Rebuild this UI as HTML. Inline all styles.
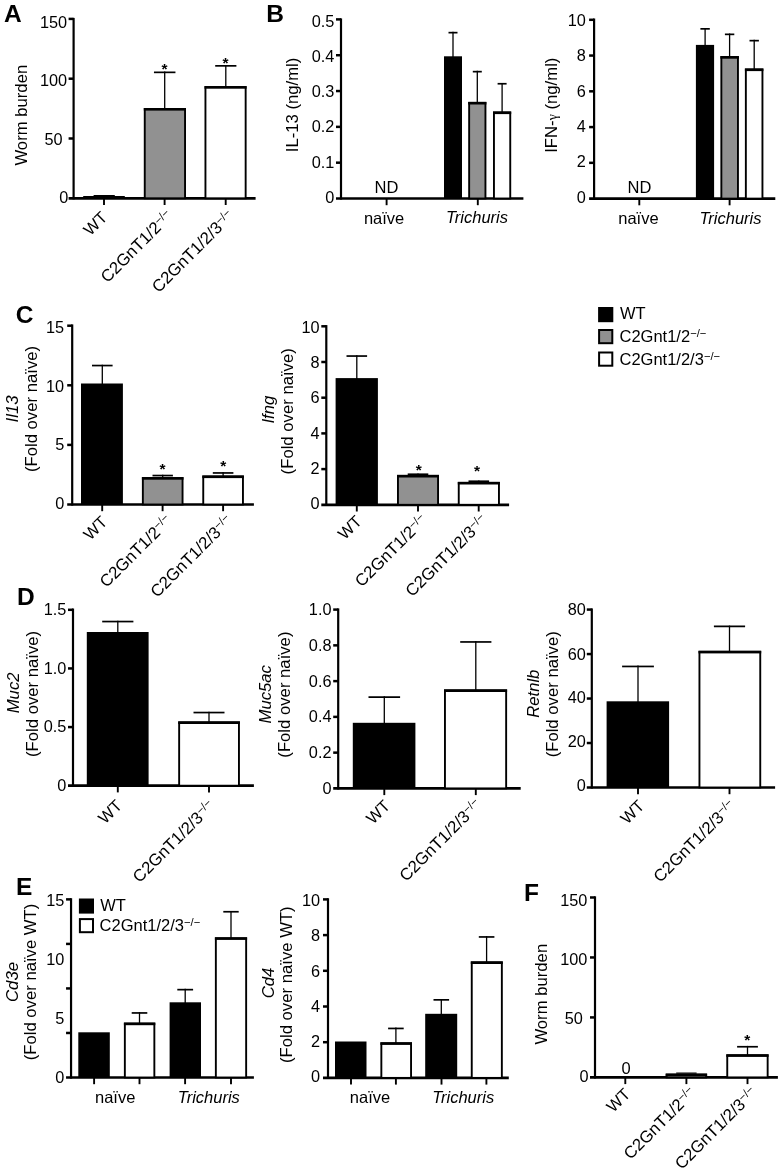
<!DOCTYPE html>
<html lang="en">
<head>
<meta charset="utf-8">
<title>Figure</title>
<style>
html,body{margin:0;padding:0;background:#fff;}
body{width:782px;height:1172px;overflow:hidden;}
svg{display:block;}
svg text{font-family:"Liberation Sans",Arial,Helvetica,sans-serif;fill:#000;}
</style>
</head>
<body>
<svg width="782" height="1172" viewBox="0 0 782 1172">
<rect x="0" y="0" width="782" height="1172" fill="#fff"/>
<text x="4" y="21.6" font-size="24.5" font-weight="bold">A</text>
<text x="266.3" y="21.6" font-size="24.5" font-weight="bold">B</text>
<text x="15.8" y="322.7" font-size="24.5" font-weight="bold">C</text>
<text x="16.9" y="604.6" font-size="24.5" font-weight="bold">D</text>
<text x="16.1" y="895.4" font-size="24.5" font-weight="bold">E</text>
<text x="523.9" y="900.7" font-size="24.5" font-weight="bold">F</text>
<line x1="73.6" y1="17.9" x2="73.6" y2="199.4" stroke="#000" stroke-width="2.2" stroke-linecap="butt"/>
<line x1="68.6" y1="198.3" x2="255.6" y2="198.3" stroke="#000" stroke-width="2.7" stroke-linecap="butt"/>
<line x1="68.6" y1="138.5" x2="73.6" y2="138.5" stroke="#000" stroke-width="2.5" stroke-linecap="butt"/>
<line x1="68.6" y1="78.7" x2="73.6" y2="78.7" stroke="#000" stroke-width="2.5" stroke-linecap="butt"/>
<line x1="68.6" y1="18.9" x2="73.6" y2="18.9" stroke="#000" stroke-width="2.5" stroke-linecap="butt"/>
<text x="68.2" y="203.04" font-size="16.3" text-anchor="end">0</text>
<text x="62.5" y="145.14" font-size="16.3" text-anchor="end">50</text>
<text x="67.1" y="86.14" font-size="16.3" text-anchor="end">100</text>
<text x="67.1" y="27.54" font-size="16.3" text-anchor="end">150</text>
<line x1="104" y1="198.3" x2="104" y2="205" stroke="#000" stroke-width="1.9" stroke-linecap="butt"/>
<line x1="164.6" y1="198.3" x2="164.6" y2="205" stroke="#000" stroke-width="1.9" stroke-linecap="butt"/>
<line x1="225.7" y1="198.3" x2="225.7" y2="205" stroke="#000" stroke-width="1.9" stroke-linecap="butt"/>
<rect x="83.2" y="196" width="41.6" height="2.3" fill="#000"/>
<line x1="93.6" y1="195.6" x2="114.8" y2="195.6" stroke="#000" stroke-width="1.2" stroke-linecap="butt"/>
<rect x="144.75" y="108.95" width="40.3" height="89.35" fill="#919191" stroke="#000" stroke-width="1.9"/>
<rect x="143.8" y="108" width="42.2" height="2.6" fill="#000"/>
<rect x="205.45" y="87.05" width="40.2" height="111.25" fill="#fff" stroke="#000" stroke-width="1.9"/>
<rect x="204.5" y="86.1" width="42.1" height="2.6" fill="#000"/>
<line x1="164.7" y1="71.5" x2="164.7" y2="109" stroke="#000" stroke-width="1.3" stroke-linecap="butt"/>
<line x1="153.95" y1="72.35" x2="175.45" y2="72.35" stroke="#000" stroke-width="1.7" stroke-linecap="butt"/>
<line x1="225.8" y1="65" x2="225.8" y2="87.1" stroke="#000" stroke-width="1.3" stroke-linecap="butt"/>
<line x1="215.2" y1="65.85" x2="236.4" y2="65.85" stroke="#000" stroke-width="1.7" stroke-linecap="butt"/>
<text x="164.6" y="74.17" font-size="15.5" text-anchor="middle" font-weight="bold">*</text>
<text x="225.6" y="68.17" font-size="15.5" text-anchor="middle" font-weight="bold">*</text>
<text x="108.5" y="218.4" font-size="16.5" text-anchor="end" transform="rotate(-45 108.5 218.4)">WT</text>
<text x="173.9" y="217.1" font-size="16.8" text-anchor="end" transform="rotate(-45 173.9 217.1)">C2GnT1/2<tspan font-size="11.42" dy="-5.04">−/−</tspan></text>
<text x="235" y="217.1" font-size="16.8" text-anchor="end" transform="rotate(-45 235 217.1)">C2GnT1/2/3<tspan font-size="11.42" dy="-5.04">−/−</tspan></text>
<text x="27.4" y="115.2" font-size="16.7" text-anchor="middle" transform="rotate(-90 27.4 115.2)">Worm burden</text>
<line x1="341" y1="18.4" x2="341" y2="199.6" stroke="#000" stroke-width="2.2" stroke-linecap="butt"/>
<line x1="336" y1="198.5" x2="523.4" y2="198.5" stroke="#000" stroke-width="2.7" stroke-linecap="butt"/>
<line x1="336" y1="162.68" x2="341" y2="162.68" stroke="#000" stroke-width="2.5" stroke-linecap="butt"/>
<line x1="336" y1="126.86" x2="341" y2="126.86" stroke="#000" stroke-width="2.5" stroke-linecap="butt"/>
<line x1="336" y1="91.04" x2="341" y2="91.04" stroke="#000" stroke-width="2.5" stroke-linecap="butt"/>
<line x1="336" y1="55.22" x2="341" y2="55.22" stroke="#000" stroke-width="2.5" stroke-linecap="butt"/>
<line x1="336" y1="19.4" x2="341" y2="19.4" stroke="#000" stroke-width="2.5" stroke-linecap="butt"/>
<text x="334.4" y="203.44" font-size="16.3" text-anchor="end">0</text>
<text x="334.4" y="168.04" font-size="16.3" text-anchor="end">0.1</text>
<text x="334.4" y="132.44" font-size="16.3" text-anchor="end">0.2</text>
<text x="334.4" y="97.34" font-size="16.3" text-anchor="end">0.3</text>
<text x="334.4" y="61.94" font-size="16.3" text-anchor="end">0.4</text>
<text x="334.4" y="26.54" font-size="16.3" text-anchor="end">0.5</text>
<line x1="386.6" y1="198.5" x2="386.6" y2="205.2" stroke="#000" stroke-width="1.9" stroke-linecap="butt"/>
<line x1="477.8" y1="198.5" x2="477.8" y2="205.2" stroke="#000" stroke-width="1.9" stroke-linecap="butt"/>
<rect x="444" y="56.3" width="18" height="142.2" fill="#000"/>
<rect x="469.15" y="102.85" width="16.3" height="95.65" fill="#919191" stroke="#000" stroke-width="1.9"/>
<rect x="468.2" y="101.9" width="18.2" height="2.6" fill="#000"/>
<rect x="493.95" y="112.45" width="16.3" height="86.05" fill="#fff" stroke="#000" stroke-width="1.9"/>
<rect x="493" y="111.5" width="18.2" height="2.6" fill="#000"/>
<line x1="453" y1="31.8" x2="453" y2="57.3" stroke="#000" stroke-width="1.3" stroke-linecap="butt"/>
<line x1="448.5" y1="32.65" x2="457.5" y2="32.65" stroke="#000" stroke-width="1.7" stroke-linecap="butt"/>
<line x1="477.3" y1="70.8" x2="477.3" y2="102.9" stroke="#000" stroke-width="1.3" stroke-linecap="butt"/>
<line x1="472.8" y1="71.65" x2="481.8" y2="71.65" stroke="#000" stroke-width="1.7" stroke-linecap="butt"/>
<line x1="502.1" y1="82.9" x2="502.1" y2="112.5" stroke="#000" stroke-width="1.3" stroke-linecap="butt"/>
<line x1="497.6" y1="83.75" x2="506.6" y2="83.75" stroke="#000" stroke-width="1.7" stroke-linecap="butt"/>
<text x="386.4" y="192.5" font-size="16.5" text-anchor="middle">ND</text>
<text x="384.1" y="223.5" font-size="16.5" text-anchor="middle">naïve</text>
<text x="477" y="223.3" font-size="16.5" text-anchor="middle" font-style="italic">Trichuris</text>
<text x="297.9" y="104.9" font-size="16.7" text-anchor="middle" transform="rotate(-90 297.9 104.9)">IL-13 (ng/ml)</text>
<line x1="594.1" y1="18.5" x2="594.1" y2="199.7" stroke="#000" stroke-width="2.2" stroke-linecap="butt"/>
<line x1="589.1" y1="198.6" x2="775.3" y2="198.6" stroke="#000" stroke-width="2.7" stroke-linecap="butt"/>
<line x1="589.1" y1="162.84" x2="594.1" y2="162.84" stroke="#000" stroke-width="2.5" stroke-linecap="butt"/>
<line x1="589.1" y1="127.08" x2="594.1" y2="127.08" stroke="#000" stroke-width="2.5" stroke-linecap="butt"/>
<line x1="589.1" y1="91.32" x2="594.1" y2="91.32" stroke="#000" stroke-width="2.5" stroke-linecap="butt"/>
<line x1="589.1" y1="55.56" x2="594.1" y2="55.56" stroke="#000" stroke-width="2.5" stroke-linecap="butt"/>
<line x1="589.1" y1="19.8" x2="594.1" y2="19.8" stroke="#000" stroke-width="2.5" stroke-linecap="butt"/>
<text x="585.8" y="202.64" font-size="16.3" text-anchor="end">0</text>
<text x="585.8" y="167.04" font-size="16.3" text-anchor="end">2</text>
<text x="585.8" y="131.84" font-size="16.3" text-anchor="end">4</text>
<text x="585.8" y="97.24" font-size="16.3" text-anchor="end">6</text>
<text x="585.8" y="61.49" font-size="16.3" text-anchor="end">8</text>
<text x="585.8" y="26.34" font-size="16.3" text-anchor="end">10</text>
<line x1="639.3" y1="198.6" x2="639.3" y2="205.3" stroke="#000" stroke-width="1.9" stroke-linecap="butt"/>
<line x1="729.6" y1="198.6" x2="729.6" y2="205.3" stroke="#000" stroke-width="1.9" stroke-linecap="butt"/>
<rect x="695.9" y="44.9" width="18.2" height="153.7" fill="#000"/>
<rect x="721.35" y="57.05" width="16.6" height="141.55" fill="#919191" stroke="#000" stroke-width="1.9"/>
<rect x="720.4" y="56.1" width="18.5" height="2.6" fill="#000"/>
<rect x="745.85" y="69.45" width="16.6" height="129.15" fill="#fff" stroke="#000" stroke-width="1.9"/>
<rect x="744.9" y="68.5" width="18.5" height="2.6" fill="#000"/>
<line x1="705.1" y1="28" x2="705.1" y2="45.9" stroke="#000" stroke-width="1.3" stroke-linecap="butt"/>
<line x1="700.4" y1="28.85" x2="709.8" y2="28.85" stroke="#000" stroke-width="1.7" stroke-linecap="butt"/>
<line x1="729.6" y1="33.5" x2="729.6" y2="57.1" stroke="#000" stroke-width="1.3" stroke-linecap="butt"/>
<line x1="724.9" y1="34.35" x2="734.3" y2="34.35" stroke="#000" stroke-width="1.7" stroke-linecap="butt"/>
<line x1="754.2" y1="39.8" x2="754.2" y2="69.5" stroke="#000" stroke-width="1.3" stroke-linecap="butt"/>
<line x1="749.5" y1="40.65" x2="758.9" y2="40.65" stroke="#000" stroke-width="1.7" stroke-linecap="butt"/>
<text x="639.5" y="192.8" font-size="16.5" text-anchor="middle">ND</text>
<text x="638.4" y="223.5" font-size="16.5" text-anchor="middle">naïve</text>
<text x="730.5" y="223.5" font-size="16.5" text-anchor="middle" font-style="italic">Trichuris</text>
<text x="557.2" y="105.2" font-size="16.7" text-anchor="middle" transform="rotate(-90 557.2 105.2)">IFN-<tspan font-family="Liberation Serif, DejaVu Serif, serif" font-size="14">γ</tspan> (ng/ml)</text>
<rect x="598.1" y="307" width="15.2" height="15.2" fill="#000"/>
<rect x="599.1" y="330" width="13.2" height="13.2" fill="#919191" stroke="#000" stroke-width="2"/>
<rect x="599.1" y="352.5" width="13.2" height="13.2" fill="#fff" stroke="#000" stroke-width="2"/>
<text x="620" y="319.4" font-size="16.5">WT</text>
<text x="619.5" y="341.9" font-size="16.5">C2Gnt1/2<tspan font-size="11.22" dy="-4.95">−/−</tspan></text>
<text x="619.5" y="364.6" font-size="16.5">C2Gnt1/2/3<tspan font-size="11.22" dy="-4.95">−/−</tspan></text>
<line x1="72.2" y1="324.4" x2="72.2" y2="505.6" stroke="#000" stroke-width="2.2" stroke-linecap="butt"/>
<line x1="67.2" y1="504.5" x2="253.9" y2="504.5" stroke="#000" stroke-width="2.7" stroke-linecap="butt"/>
<line x1="67.2" y1="444.9" x2="72.2" y2="444.9" stroke="#000" stroke-width="2.5" stroke-linecap="butt"/>
<line x1="67.2" y1="385.3" x2="72.2" y2="385.3" stroke="#000" stroke-width="2.5" stroke-linecap="butt"/>
<line x1="67.2" y1="325.7" x2="72.2" y2="325.7" stroke="#000" stroke-width="2.5" stroke-linecap="butt"/>
<text x="64.2" y="509.04" font-size="16.3" text-anchor="end">0</text>
<text x="64.2" y="450.44" font-size="16.3" text-anchor="end">5</text>
<text x="64.2" y="391.64" font-size="16.3" text-anchor="end">10</text>
<text x="64.2" y="332.84" font-size="16.3" text-anchor="end">15</text>
<line x1="102.2" y1="504.5" x2="102.2" y2="511.2" stroke="#000" stroke-width="1.9" stroke-linecap="butt"/>
<line x1="162.6" y1="504.5" x2="162.6" y2="511.2" stroke="#000" stroke-width="1.9" stroke-linecap="butt"/>
<line x1="223.1" y1="504.5" x2="223.1" y2="511.2" stroke="#000" stroke-width="1.9" stroke-linecap="butt"/>
<rect x="81" y="383.5" width="41.9" height="121" fill="#000"/>
<rect x="142.85" y="478.05" width="39.7" height="26.45" fill="#919191" stroke="#000" stroke-width="1.9"/>
<rect x="141.9" y="477.1" width="41.6" height="2.6" fill="#000"/>
<rect x="203.25" y="476.45" width="39.7" height="28.05" fill="#fff" stroke="#000" stroke-width="1.9"/>
<rect x="202.3" y="475.5" width="41.6" height="2.6" fill="#000"/>
<line x1="102.3" y1="364.7" x2="102.3" y2="384.5" stroke="#000" stroke-width="1.3" stroke-linecap="butt"/>
<line x1="92" y1="365.55" x2="112.6" y2="365.55" stroke="#000" stroke-width="1.7" stroke-linecap="butt"/>
<line x1="162.7" y1="474.7" x2="162.7" y2="478.1" stroke="#000" stroke-width="1.3" stroke-linecap="butt"/>
<line x1="152.5" y1="475.55" x2="172.9" y2="475.55" stroke="#000" stroke-width="1.7" stroke-linecap="butt"/>
<line x1="223.1" y1="472.1" x2="223.1" y2="476.5" stroke="#000" stroke-width="1.3" stroke-linecap="butt"/>
<line x1="212.8" y1="472.95" x2="233.4" y2="472.95" stroke="#000" stroke-width="1.7" stroke-linecap="butt"/>
<text x="162.6" y="473.96" font-size="15.5" text-anchor="middle" font-weight="bold">*</text>
<text x="223.3" y="471.16" font-size="15.5" text-anchor="middle" font-weight="bold">*</text>
<text x="108.5" y="522.8" font-size="16.5" text-anchor="end" transform="rotate(-45 108.5 522.8)">WT</text>
<text x="173" y="521.9" font-size="16.8" text-anchor="end" transform="rotate(-45 173 521.9)">C2GnT1/2<tspan font-size="11.42" dy="-5.04">−/−</tspan></text>
<text x="233.5" y="521.9" font-size="16.8" text-anchor="end" transform="rotate(-45 233.5 521.9)">C2GnT1/2/3<tspan font-size="11.42" dy="-5.04">−/−</tspan></text>
<text x="17.8" y="409" font-size="16.7" text-anchor="middle" font-style="italic" transform="rotate(-90 17.8 409)">Il13</text>
<text x="36.6" y="409" font-size="16.7" text-anchor="middle" transform="rotate(-90 36.6 409)">(Fold over naïve)</text>
<line x1="326.3" y1="325.1" x2="326.3" y2="505.9" stroke="#000" stroke-width="2.2" stroke-linecap="butt"/>
<line x1="321.3" y1="504.8" x2="509.1" y2="504.8" stroke="#000" stroke-width="2.7" stroke-linecap="butt"/>
<line x1="321.3" y1="469.1" x2="326.3" y2="469.1" stroke="#000" stroke-width="2.5" stroke-linecap="butt"/>
<line x1="321.3" y1="433.4" x2="326.3" y2="433.4" stroke="#000" stroke-width="2.5" stroke-linecap="butt"/>
<line x1="321.3" y1="397.7" x2="326.3" y2="397.7" stroke="#000" stroke-width="2.5" stroke-linecap="butt"/>
<line x1="321.3" y1="362" x2="326.3" y2="362" stroke="#000" stroke-width="2.5" stroke-linecap="butt"/>
<line x1="321.3" y1="326.3" x2="326.3" y2="326.3" stroke="#000" stroke-width="2.5" stroke-linecap="butt"/>
<text x="319.6" y="509.14" font-size="16.3" text-anchor="end">0</text>
<text x="319.6" y="474.14" font-size="16.3" text-anchor="end">2</text>
<text x="319.6" y="438.64" font-size="16.3" text-anchor="end">4</text>
<text x="319.6" y="403.14" font-size="16.3" text-anchor="end">6</text>
<text x="319.6" y="367.74" font-size="16.3" text-anchor="end">8</text>
<text x="319.6" y="332.84" font-size="16.3" text-anchor="end">10</text>
<line x1="356.8" y1="504.8" x2="356.8" y2="511.5" stroke="#000" stroke-width="1.9" stroke-linecap="butt"/>
<line x1="418" y1="504.8" x2="418" y2="511.5" stroke="#000" stroke-width="1.9" stroke-linecap="butt"/>
<line x1="478.7" y1="504.8" x2="478.7" y2="511.5" stroke="#000" stroke-width="1.9" stroke-linecap="butt"/>
<rect x="335.6" y="378.1" width="42.3" height="126.7" fill="#000"/>
<rect x="397.95" y="475.85" width="40.1" height="28.95" fill="#919191" stroke="#000" stroke-width="1.9"/>
<rect x="397" y="474.9" width="42" height="2.6" fill="#000"/>
<rect x="458.75" y="482.85" width="40.2" height="21.95" fill="#fff" stroke="#000" stroke-width="1.9"/>
<rect x="457.8" y="481.9" width="42.1" height="2.6" fill="#000"/>
<line x1="356.8" y1="355.2" x2="356.8" y2="379.1" stroke="#000" stroke-width="1.3" stroke-linecap="butt"/>
<line x1="346.5" y1="356.05" x2="367.1" y2="356.05" stroke="#000" stroke-width="1.7" stroke-linecap="butt"/>
<line x1="418" y1="473.4" x2="418" y2="475.9" stroke="#000" stroke-width="1.3" stroke-linecap="butt"/>
<line x1="407.7" y1="474.25" x2="428.3" y2="474.25" stroke="#000" stroke-width="1.7" stroke-linecap="butt"/>
<line x1="478.8" y1="480.4" x2="478.8" y2="482.9" stroke="#000" stroke-width="1.3" stroke-linecap="butt"/>
<line x1="468.5" y1="481.25" x2="489.1" y2="481.25" stroke="#000" stroke-width="1.7" stroke-linecap="butt"/>
<text x="418.8" y="475.16" font-size="15.5" text-anchor="middle" font-weight="bold">*</text>
<text x="477.1" y="476.46" font-size="15.5" text-anchor="middle" font-weight="bold">*</text>
<text x="363" y="522.4" font-size="16.5" text-anchor="end" transform="rotate(-45 363 522.4)">WT</text>
<text x="428.2" y="521.3" font-size="16.8" text-anchor="end" transform="rotate(-45 428.2 521.3)">C2GnT1/2<tspan font-size="11.42" dy="-5.04">−/−</tspan></text>
<text x="488.6" y="521.3" font-size="16.8" text-anchor="end" transform="rotate(-45 488.6 521.3)">C2GnT1/2/3<tspan font-size="11.42" dy="-5.04">−/−</tspan></text>
<text x="274" y="409.7" font-size="16.7" text-anchor="middle" font-style="italic" transform="rotate(-90 274 409.7)">Ifng</text>
<text x="292.7" y="411.3" font-size="16.7" text-anchor="middle" transform="rotate(-90 292.7 411.3)">(Fold over naïve)</text>
<line x1="73" y1="608.5" x2="73" y2="786.8" stroke="#000" stroke-width="2.2" stroke-linecap="butt"/>
<line x1="68" y1="785.7" x2="253.9" y2="785.7" stroke="#000" stroke-width="2.7" stroke-linecap="butt"/>
<line x1="68" y1="727.07" x2="73" y2="727.07" stroke="#000" stroke-width="2.5" stroke-linecap="butt"/>
<line x1="68" y1="668.44" x2="73" y2="668.44" stroke="#000" stroke-width="2.5" stroke-linecap="butt"/>
<line x1="68" y1="609.81" x2="73" y2="609.81" stroke="#000" stroke-width="2.5" stroke-linecap="butt"/>
<text x="66.3" y="791.04" font-size="16.3" text-anchor="end">0</text>
<text x="66.3" y="732.29" font-size="16.3" text-anchor="end">0.5</text>
<text x="66.3" y="673.84" font-size="16.3" text-anchor="end">1.0</text>
<text x="66.3" y="615.14" font-size="16.3" text-anchor="end">1.5</text>
<line x1="117.8" y1="785.7" x2="117.8" y2="792.4" stroke="#000" stroke-width="1.9" stroke-linecap="butt"/>
<line x1="209" y1="785.7" x2="209" y2="792.4" stroke="#000" stroke-width="1.9" stroke-linecap="butt"/>
<rect x="86.8" y="632" width="61.8" height="153.7" fill="#000"/>
<rect x="179.15" y="722.35" width="59.8" height="63.35" fill="#fff" stroke="#000" stroke-width="1.9"/>
<rect x="178.2" y="721.4" width="61.7" height="2.6" fill="#000"/>
<line x1="117.8" y1="620.7" x2="117.8" y2="633" stroke="#000" stroke-width="1.3" stroke-linecap="butt"/>
<line x1="102.2" y1="621.55" x2="133.4" y2="621.55" stroke="#000" stroke-width="1.7" stroke-linecap="butt"/>
<line x1="209" y1="711.7" x2="209" y2="722.4" stroke="#000" stroke-width="1.3" stroke-linecap="butt"/>
<line x1="193.5" y1="712.55" x2="224.5" y2="712.55" stroke="#000" stroke-width="1.7" stroke-linecap="butt"/>
<text x="123.1" y="806.6" font-size="16.5" text-anchor="end" transform="rotate(-45 123.1 806.6)">WT</text>
<text x="215.9" y="807.1" font-size="16.8" text-anchor="end" transform="rotate(-45 215.9 807.1)">C2GnT1/2/3<tspan font-size="11.42" dy="-5.04">−/−</tspan></text>
<text x="19.5" y="692.9" font-size="16.7" text-anchor="middle" font-style="italic" transform="rotate(-90 19.5 692.9)">Muc2</text>
<text x="37.9" y="693.9" font-size="16.7" text-anchor="middle" transform="rotate(-90 37.9 693.9)">(Fold over naïve)</text>
<line x1="338.2" y1="608.4" x2="338.2" y2="789.5" stroke="#000" stroke-width="2.2" stroke-linecap="butt"/>
<line x1="333.2" y1="788.4" x2="520.7" y2="788.4" stroke="#000" stroke-width="2.7" stroke-linecap="butt"/>
<line x1="333.2" y1="752.64" x2="338.2" y2="752.64" stroke="#000" stroke-width="2.5" stroke-linecap="butt"/>
<line x1="333.2" y1="716.88" x2="338.2" y2="716.88" stroke="#000" stroke-width="2.5" stroke-linecap="butt"/>
<line x1="333.2" y1="681.12" x2="338.2" y2="681.12" stroke="#000" stroke-width="2.5" stroke-linecap="butt"/>
<line x1="333.2" y1="645.36" x2="338.2" y2="645.36" stroke="#000" stroke-width="2.5" stroke-linecap="butt"/>
<line x1="333.2" y1="609.6" x2="338.2" y2="609.6" stroke="#000" stroke-width="2.5" stroke-linecap="butt"/>
<text x="331.5" y="794.24" font-size="16.3" text-anchor="end">0</text>
<text x="331.5" y="758.34" font-size="16.3" text-anchor="end">0.2</text>
<text x="331.5" y="722.34" font-size="16.3" text-anchor="end">0.4</text>
<text x="331.5" y="686.74" font-size="16.3" text-anchor="end">0.6</text>
<text x="331.5" y="650.89" font-size="16.3" text-anchor="end">0.8</text>
<text x="331.5" y="614.94" font-size="16.3" text-anchor="end">1.0</text>
<line x1="384.3" y1="788.4" x2="384.3" y2="795.1" stroke="#000" stroke-width="1.9" stroke-linecap="butt"/>
<line x1="475.8" y1="788.4" x2="475.8" y2="795.1" stroke="#000" stroke-width="1.9" stroke-linecap="butt"/>
<rect x="352.8" y="722.8" width="62.6" height="65.6" fill="#000"/>
<rect x="444.95" y="690.35" width="61.2" height="98.05" fill="#fff" stroke="#000" stroke-width="1.9"/>
<rect x="444" y="689.4" width="63.1" height="2.6" fill="#000"/>
<line x1="384.3" y1="696.2" x2="384.3" y2="723.8" stroke="#000" stroke-width="1.3" stroke-linecap="butt"/>
<line x1="368.5" y1="697.05" x2="400.1" y2="697.05" stroke="#000" stroke-width="1.7" stroke-linecap="butt"/>
<line x1="475.8" y1="641.1" x2="475.8" y2="690.4" stroke="#000" stroke-width="1.3" stroke-linecap="butt"/>
<line x1="460.2" y1="641.95" x2="491.4" y2="641.95" stroke="#000" stroke-width="1.7" stroke-linecap="butt"/>
<text x="391.1" y="806.8" font-size="16.5" text-anchor="end" transform="rotate(-45 391.1 806.8)">WT</text>
<text x="482.5" y="805.9" font-size="16.8" text-anchor="end" transform="rotate(-45 482.5 805.9)">C2GnT1/2/3<tspan font-size="11.42" dy="-5.04">−/−</tspan></text>
<text x="270.6" y="694.3" font-size="16.7" text-anchor="middle" font-style="italic" transform="rotate(-90 270.6 694.3)">Muc5ac</text>
<text x="289.8" y="694.6" font-size="16.7" text-anchor="middle" transform="rotate(-90 289.8 694.6)">(Fold over naïve)</text>
<line x1="591.8" y1="608.4" x2="591.8" y2="788.6" stroke="#000" stroke-width="2.2" stroke-linecap="butt"/>
<line x1="586.8" y1="787.5" x2="775.1" y2="787.5" stroke="#000" stroke-width="2.7" stroke-linecap="butt"/>
<line x1="586.8" y1="743.02" x2="591.8" y2="743.02" stroke="#000" stroke-width="2.5" stroke-linecap="butt"/>
<line x1="586.8" y1="698.54" x2="591.8" y2="698.54" stroke="#000" stroke-width="2.5" stroke-linecap="butt"/>
<line x1="586.8" y1="654.06" x2="591.8" y2="654.06" stroke="#000" stroke-width="2.5" stroke-linecap="butt"/>
<line x1="586.8" y1="609.58" x2="591.8" y2="609.58" stroke="#000" stroke-width="2.5" stroke-linecap="butt"/>
<text x="585.9" y="791.44" font-size="16.3" text-anchor="end">0</text>
<text x="585.9" y="747.34" font-size="16.3" text-anchor="end">20</text>
<text x="585.9" y="703.34" font-size="16.3" text-anchor="end">40</text>
<text x="585.9" y="659.59" font-size="16.3" text-anchor="end">60</text>
<text x="585.9" y="615.14" font-size="16.3" text-anchor="end">80</text>
<line x1="638" y1="787.5" x2="638" y2="794.2" stroke="#000" stroke-width="1.9" stroke-linecap="butt"/>
<line x1="729.5" y1="787.5" x2="729.5" y2="794.2" stroke="#000" stroke-width="1.9" stroke-linecap="butt"/>
<rect x="606.6" y="701.3" width="62.5" height="86.2" fill="#000"/>
<rect x="699.45" y="651.75" width="60.8" height="135.75" fill="#fff" stroke="#000" stroke-width="1.9"/>
<rect x="698.5" y="650.8" width="62.7" height="2.6" fill="#000"/>
<line x1="638" y1="665.6" x2="638" y2="702.3" stroke="#000" stroke-width="1.3" stroke-linecap="butt"/>
<line x1="622.1" y1="666.45" x2="653.9" y2="666.45" stroke="#000" stroke-width="1.7" stroke-linecap="butt"/>
<line x1="729.5" y1="625.6" x2="729.5" y2="651.8" stroke="#000" stroke-width="1.3" stroke-linecap="butt"/>
<line x1="713.9" y1="626.45" x2="745.1" y2="626.45" stroke="#000" stroke-width="1.7" stroke-linecap="butt"/>
<text x="645.4" y="806.8" font-size="16.5" text-anchor="end" transform="rotate(-45 645.4 806.8)">WT</text>
<text x="736.6" y="806.9" font-size="16.8" text-anchor="end" transform="rotate(-45 736.6 806.9)">C2GnT1/2/3<tspan font-size="11.42" dy="-5.04">−/−</tspan></text>
<text x="539.2" y="693.7" font-size="16.7" text-anchor="middle" font-style="italic" transform="rotate(-90 539.2 693.7)">Retnlb</text>
<text x="558.4" y="694.3" font-size="16.7" text-anchor="middle" transform="rotate(-90 558.4 694.3)">(Fold over naïve)</text>
<line x1="71.05" y1="898.2" x2="71.05" y2="1078.6" stroke="#000" stroke-width="2.2" stroke-linecap="butt"/>
<line x1="66.05" y1="1077.5" x2="253.9" y2="1077.5" stroke="#000" stroke-width="2.7" stroke-linecap="butt"/>
<line x1="66.05" y1="1032.97" x2="71.05" y2="1032.97" stroke="#000" stroke-width="2.5" stroke-linecap="butt"/>
<line x1="66.05" y1="988.44" x2="71.05" y2="988.44" stroke="#000" stroke-width="2.5" stroke-linecap="butt"/>
<line x1="66.05" y1="943.91" x2="71.05" y2="943.91" stroke="#000" stroke-width="2.5" stroke-linecap="butt"/>
<line x1="66.05" y1="899.38" x2="71.05" y2="899.38" stroke="#000" stroke-width="2.5" stroke-linecap="butt"/>
<text x="64.3" y="1082.54" font-size="16.3" text-anchor="end">0</text>
<text x="64.3" y="1023.69" font-size="16.3" text-anchor="end">5</text>
<text x="64.3" y="964.64" font-size="16.3" text-anchor="end">10</text>
<text x="64.3" y="905.74" font-size="16.3" text-anchor="end">15</text>
<line x1="94.1" y1="1077.5" x2="94.1" y2="1084.2" stroke="#000" stroke-width="1.9" stroke-linecap="butt"/>
<line x1="139.5" y1="1077.5" x2="139.5" y2="1084.2" stroke="#000" stroke-width="1.9" stroke-linecap="butt"/>
<line x1="185.1" y1="1077.5" x2="185.1" y2="1084.2" stroke="#000" stroke-width="1.9" stroke-linecap="butt"/>
<line x1="231" y1="1077.5" x2="231" y2="1084.2" stroke="#000" stroke-width="1.9" stroke-linecap="butt"/>
<rect x="78.3" y="1032.3" width="31.5" height="45.2" fill="#000"/>
<rect x="124.85" y="1023.55" width="29.5" height="53.95" fill="#fff" stroke="#000" stroke-width="1.9"/>
<rect x="123.9" y="1022.6" width="31.4" height="2.6" fill="#000"/>
<rect x="169.6" y="1002.3" width="31.4" height="75.2" fill="#000"/>
<rect x="215.85" y="938.25" width="30.3" height="139.25" fill="#fff" stroke="#000" stroke-width="1.9"/>
<rect x="214.9" y="937.3" width="32.2" height="2.6" fill="#000"/>
<line x1="139.5" y1="1012.1" x2="139.5" y2="1023.6" stroke="#000" stroke-width="1.3" stroke-linecap="butt"/>
<line x1="131.7" y1="1012.95" x2="147.3" y2="1012.95" stroke="#000" stroke-width="1.7" stroke-linecap="butt"/>
<line x1="185.2" y1="988.8" x2="185.2" y2="1003.3" stroke="#000" stroke-width="1.3" stroke-linecap="butt"/>
<line x1="177.3" y1="989.65" x2="193.1" y2="989.65" stroke="#000" stroke-width="1.7" stroke-linecap="butt"/>
<line x1="231" y1="910.9" x2="231" y2="938.3" stroke="#000" stroke-width="1.3" stroke-linecap="butt"/>
<line x1="223.3" y1="911.75" x2="238.7" y2="911.75" stroke="#000" stroke-width="1.7" stroke-linecap="butt"/>
<text x="115.2" y="1102.9" font-size="16.5" text-anchor="middle">naïve</text>
<text x="208.8" y="1102.9" font-size="16.5" text-anchor="middle" font-style="italic">Trichuris</text>
<rect x="78.9" y="898.5" width="15.1" height="15.1" fill="#000"/>
<rect x="79.9" y="919.1" width="13.1" height="13.1" fill="#fff" stroke="#000" stroke-width="2"/>
<text x="100.3" y="910.9" font-size="16.5">WT</text>
<text x="99.6" y="931.2" font-size="16.5">C2Gnt1/2/3<tspan font-size="11.22" dy="-4.95">−/−</tspan></text>
<text x="18.4" y="982" font-size="16.7" text-anchor="middle" font-style="italic" transform="rotate(-90 18.4 982)">Cd3e</text>
<text x="35.7" y="982" font-size="16.7" text-anchor="middle" transform="rotate(-90 35.7 982)">(Fold over naïve WT)</text>
<line x1="328" y1="898.2" x2="328" y2="1079" stroke="#000" stroke-width="2.2" stroke-linecap="butt"/>
<line x1="323" y1="1077.9" x2="508.8" y2="1077.9" stroke="#000" stroke-width="2.7" stroke-linecap="butt"/>
<line x1="323" y1="1042.2" x2="328" y2="1042.2" stroke="#000" stroke-width="2.5" stroke-linecap="butt"/>
<line x1="323" y1="1006.5" x2="328" y2="1006.5" stroke="#000" stroke-width="2.5" stroke-linecap="butt"/>
<line x1="323" y1="970.8" x2="328" y2="970.8" stroke="#000" stroke-width="2.5" stroke-linecap="butt"/>
<line x1="323" y1="935.1" x2="328" y2="935.1" stroke="#000" stroke-width="2.5" stroke-linecap="butt"/>
<line x1="323" y1="899.4" x2="328" y2="899.4" stroke="#000" stroke-width="2.5" stroke-linecap="butt"/>
<text x="320" y="1082.14" font-size="16.3" text-anchor="end">0</text>
<text x="320" y="1046.94" font-size="16.3" text-anchor="end">2</text>
<text x="320" y="1011.94" font-size="16.3" text-anchor="end">4</text>
<text x="320" y="976.84" font-size="16.3" text-anchor="end">6</text>
<text x="320" y="941.39" font-size="16.3" text-anchor="end">8</text>
<text x="320" y="905.89" font-size="16.3" text-anchor="end">10</text>
<line x1="351" y1="1077.9" x2="351" y2="1084.6" stroke="#000" stroke-width="1.9" stroke-linecap="butt"/>
<line x1="395.9" y1="1077.9" x2="395.9" y2="1084.6" stroke="#000" stroke-width="1.9" stroke-linecap="butt"/>
<line x1="441.5" y1="1077.9" x2="441.5" y2="1084.6" stroke="#000" stroke-width="1.9" stroke-linecap="butt"/>
<line x1="486.4" y1="1077.9" x2="486.4" y2="1084.6" stroke="#000" stroke-width="1.9" stroke-linecap="butt"/>
<rect x="335" y="1041.5" width="31.5" height="36.4" fill="#000"/>
<rect x="381.35" y="1043.25" width="29.7" height="34.65" fill="#fff" stroke="#000" stroke-width="1.9"/>
<rect x="380.4" y="1042.3" width="31.6" height="2.6" fill="#000"/>
<rect x="425.2" y="1013.8" width="32" height="64.1" fill="#000"/>
<rect x="471.75" y="962.35" width="30.1" height="115.55" fill="#fff" stroke="#000" stroke-width="1.9"/>
<rect x="470.8" y="961.4" width="32" height="2.6" fill="#000"/>
<line x1="395.9" y1="1027.6" x2="395.9" y2="1043.3" stroke="#000" stroke-width="1.3" stroke-linecap="butt"/>
<line x1="388.1" y1="1028.45" x2="403.7" y2="1028.45" stroke="#000" stroke-width="1.7" stroke-linecap="butt"/>
<line x1="441.3" y1="999" x2="441.3" y2="1014.8" stroke="#000" stroke-width="1.3" stroke-linecap="butt"/>
<line x1="433.5" y1="999.85" x2="449.1" y2="999.85" stroke="#000" stroke-width="1.7" stroke-linecap="butt"/>
<line x1="486.6" y1="936.1" x2="486.6" y2="962.4" stroke="#000" stroke-width="1.3" stroke-linecap="butt"/>
<line x1="478.8" y1="936.95" x2="494.4" y2="936.95" stroke="#000" stroke-width="1.7" stroke-linecap="butt"/>
<text x="370" y="1103" font-size="16.5" text-anchor="middle">naïve</text>
<text x="463.2" y="1103" font-size="16.5" text-anchor="middle" font-style="italic">Trichuris</text>
<text x="273.8" y="982.9" font-size="16.7" text-anchor="middle" font-style="italic" transform="rotate(-90 273.8 982.9)">Cd4</text>
<text x="291.6" y="984.7" font-size="16.7" text-anchor="middle" transform="rotate(-90 291.6 984.7)">(Fold over naïve WT)</text>
<line x1="595" y1="896.3" x2="595" y2="1078.5" stroke="#000" stroke-width="2.2" stroke-linecap="butt"/>
<line x1="590" y1="1077.4" x2="777.9" y2="1077.4" stroke="#000" stroke-width="2.7" stroke-linecap="butt"/>
<line x1="590" y1="1017.43" x2="595" y2="1017.43" stroke="#000" stroke-width="2.5" stroke-linecap="butt"/>
<line x1="590" y1="957.46" x2="595" y2="957.46" stroke="#000" stroke-width="2.5" stroke-linecap="butt"/>
<line x1="590" y1="897.49" x2="595" y2="897.49" stroke="#000" stroke-width="2.5" stroke-linecap="butt"/>
<text x="588.45" y="1082.44" font-size="16.3" text-anchor="end">0</text>
<text x="582.9" y="1023.84" font-size="16.3" text-anchor="end">50</text>
<text x="587.3" y="964.99" font-size="16.3" text-anchor="end">100</text>
<text x="587.3" y="905.89" font-size="16.3" text-anchor="end">150</text>
<line x1="625.3" y1="1077.4" x2="625.3" y2="1084.1" stroke="#000" stroke-width="1.9" stroke-linecap="butt"/>
<line x1="686.4" y1="1077.4" x2="686.4" y2="1084.1" stroke="#000" stroke-width="1.9" stroke-linecap="butt"/>
<line x1="747.5" y1="1077.4" x2="747.5" y2="1084.1" stroke="#000" stroke-width="1.9" stroke-linecap="butt"/>
<rect x="666.65" y="1074.55" width="39.5" height="2.85" fill="#919191" stroke="#000" stroke-width="1.9"/>
<rect x="665.7" y="1073.6" width="41.4" height="2.6" fill="#000"/>
<line x1="676.2" y1="1073.1" x2="696.6" y2="1073.1" stroke="#000" stroke-width="1.2" stroke-linecap="butt"/>
<rect x="727.25" y="1055.25" width="40.4" height="22.15" fill="#fff" stroke="#000" stroke-width="1.9"/>
<rect x="726.3" y="1054.3" width="42.3" height="2.6" fill="#000"/>
<line x1="747.5" y1="1045.9" x2="747.5" y2="1055.3" stroke="#000" stroke-width="1.3" stroke-linecap="butt"/>
<line x1="737.1" y1="1046.75" x2="757.9" y2="1046.75" stroke="#000" stroke-width="1.7" stroke-linecap="butt"/>
<text x="747.3" y="1044.77" font-size="15.5" text-anchor="middle" font-weight="bold">*</text>
<text x="626" y="1073.9" font-size="16.5" text-anchor="middle">0</text>
<text x="631.3" y="1095" font-size="16.5" text-anchor="end" transform="rotate(-45 631.3 1095)">WT</text>
<text x="696.9" y="1093.9" font-size="16.8" text-anchor="end" transform="rotate(-45 696.9 1093.9)">C2GnT1/2<tspan font-size="11.42" dy="-5.04">−/−</tspan></text>
<text x="758" y="1093.9" font-size="16.8" text-anchor="end" transform="rotate(-45 758 1093.9)">C2GnT1/2/3<tspan font-size="11.42" dy="-5.04">−/−</tspan></text>
<text x="547.3" y="994.2" font-size="16.7" text-anchor="middle" transform="rotate(-90 547.3 994.2)">Worm burden</text>
</svg>
</body>
</html>
